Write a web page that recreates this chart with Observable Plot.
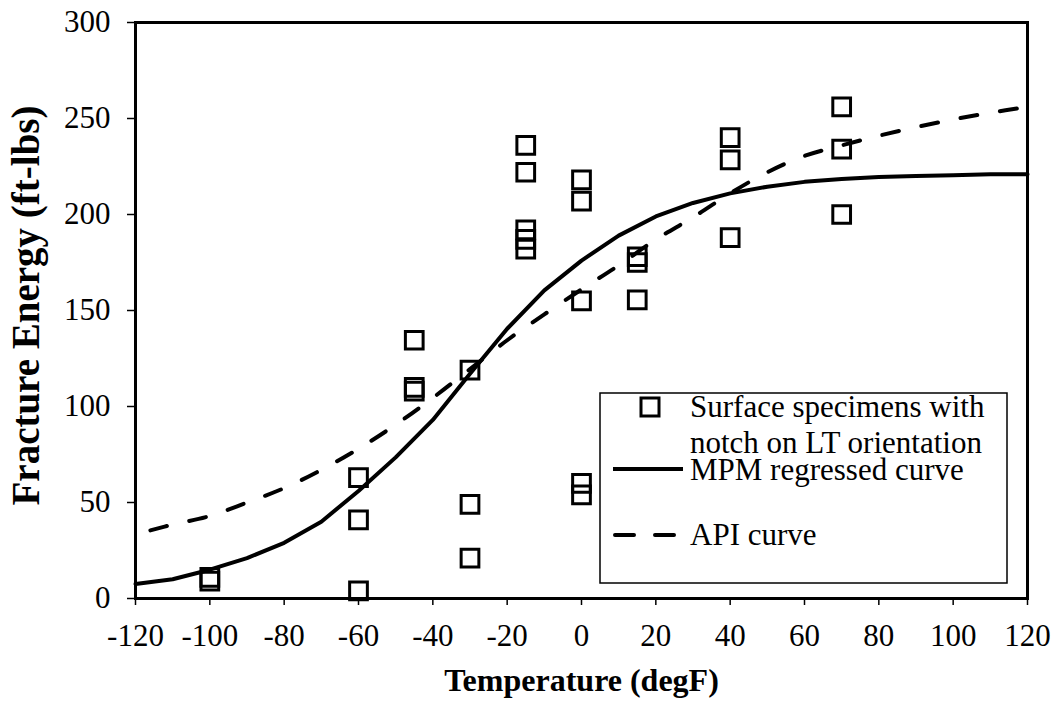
<!DOCTYPE html>
<html><head><meta charset="utf-8">
<script src="https://cdn.jsdelivr.net/npm/d3@7"></script>
<script src="https://cdn.jsdelivr.net/npm/@observablehq/plot@0.6"></script>
<style>
body{margin:0;background:#fff;}
#chart{position:relative;width:1060px;height:705px;}
</style></head><body><div id="chart"></div>
<script>
// Measured specimens
const specimenTemp   = [-100,-100, -60,-60,-60, -45,-45,-45, -30,-30,-30, -15,-15,-15,-15,-15, 0,0,0,0,0, 15,15,15, 40,40,40, 70,70,70];
const specimenEnergy = [9,11, 63,41,4, 134.5,110,108, 119,49,21, 236,222,192,187,182, 218,207,155,60,54, 178,175,155.5, 240,228.5,188, 256,234,200];

// MPM regressed curve
const mpmTemp   = [-120,-110,-100,-90,-80,-70,-60,-50,-40,-30,-20,-10,0,10,20,30,40,50,60,70,80,90,100,110,120];
const mpmEnergy = [7.5,10,15,21,29,40,56,73.5,93,117,140.5,160.5,176,189,199,206,211,214.5,217,218.5,219.5,220,220.5,221,221];

// API curve
const apiTemp   = [-116,-110,-100,-90,-80,-70,-60,-50,-40,-30,-20,-10,0,10,20,30,40,50,60,70,80,90,100,110,120];
const apiEnergy = [35.5,38.5,43,50,57.5,67,78,90.5,104.5,119.5,134.5,148,161,173.5,187,198.5,211,222,230.5,236,241,245.5,249.5,253,256];

const xTicks = [-120,-100,-80,-60,-40,-20,0,20,40,60,80,100,120];
const yTicks = [0,50,100,150,200,250,300];
const xTitle = "Temperature (degF)";
const yTitle = "Fracture Energy (ft-lbs)";
const legendLabels = ["Surface specimens with", "notch on LT orientation", "MPM regressed curve", "API curve"];

const specimens = specimenTemp.map((t, i) => ({t, e: specimenEnergy[i]}));
const mpm = mpmTemp.map((t, i) => ({t, e: mpmEnergy[i]}));
const api = apiTemp.map((t, i) => ({t, e: apiEnergy[i]}));

const svg = Plot.plot({
  width: 1060, height: 705,
  marginLeft: 135, marginRight: 33, marginTop: 22, marginBottom: 107,
  x: {domain: [-120, 120]},
  y: {domain: [0, 300]},
  style: {fontFamily: "'Liberation Serif', 'Times New Roman', serif", fontSize: "31px", color: "black", background: "white"},
  marks: [
    Plot.axisX({ticks: xTicks, tickSize: 7, tickPadding: 18, tickFormat: d => String(d), label: null, strokeWidth: 1.5}),
    Plot.axisY({ticks: yTicks, tickSize: 8, tickPadding: 17, tickFormat: d => String(d), label: null, strokeWidth: 1.5}),
    Plot.line(mpm, {x: "t", y: "e", stroke: "black", strokeWidth: 4}),
    Plot.line(api, {x: "t", y: "e", stroke: "black", strokeWidth: 4, strokeDasharray: "17,23", strokeLinecap: "round", curve: "catmull-rom"}),
    Plot.dot(specimens, {x: "t", y: "e", symbol: "square", r: 10, stroke: "black", strokeWidth: 3, fill: "none"}),
    Plot.frame({stroke: "black", strokeWidth: 3}),
    Plot.text([xTitle], {frameAnchor: "bottom", dy: 92, lineAnchor: "bottom", textAnchor: "middle", fontWeight: "bold", fontSize: 32}),
    Plot.text([yTitle], {frameAnchor: "left", dx: -109, dy: -5, rotate: -90, textAnchor: "middle", lineAnchor: "middle", fontWeight: "bold", fontSize: 39})
  ]
});
document.getElementById("chart").appendChild(svg);

// Legend
const lg = d3.select(svg).append("g")
  .attr("font-family", "'Liberation Serif', 'Times New Roman', serif")
  .attr("font-size", 31).attr("text-anchor", "start").attr("fill", "black");
lg.append("rect").attr("x", 600).attr("y", 393).attr("width", 407).attr("height", 190)
  .attr("fill", "white").attr("stroke", "black").attr("stroke-width", 1.5);
lg.append("rect").attr("x", 641).attr("y", 398).attr("width", 18).attr("height", 18)
  .attr("fill", "none").attr("stroke", "black").attr("stroke-width", 3);
lg.append("line").attr("x1", 613).attr("x2", 683).attr("y1", 469).attr("y2", 469)
  .attr("stroke", "black").attr("stroke-width", 4);
lg.append("line").attr("x1", 615).attr("x2", 683).attr("y1", 535).attr("y2", 535)
  .attr("stroke", "black").attr("stroke-width", 4).attr("stroke-dasharray", "19,21").attr("stroke-linecap", "round");
const baselines = [417, 453, 480, 545];
legendLabels.forEach((s, i) => {
  lg.append("text").attr("x", 690).attr("y", baselines[i]).attr("text-anchor", "start").text(s);
});
</script>
</body></html>
